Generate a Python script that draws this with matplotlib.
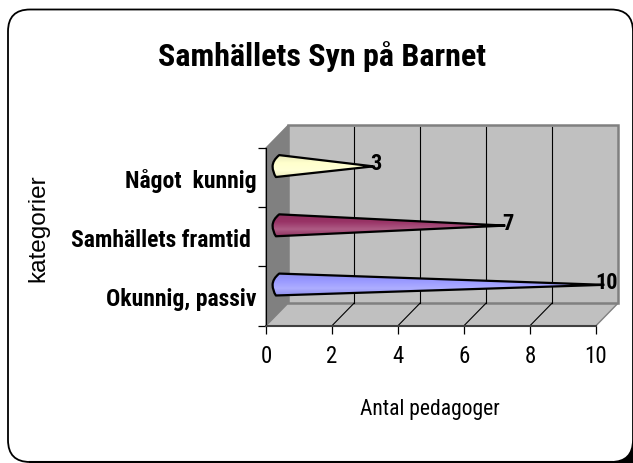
import matplotlib
matplotlib.use('Agg')
import logging
import numpy as np
import matplotlib.pyplot as plt
from matplotlib.path import Path
from matplotlib.patches import PathPatch, Polygon, FancyBboxPatch
from matplotlib.colors import LinearSegmentedColormap

logging.getLogger('matplotlib.font_manager').setLevel(logging.ERROR)

categories = ['Okunnig, passiv', 'Samhällets framtid ', 'Något  kunnig']
values = [10, 7, 3]
colors = ['#9999FF', '#993366', '#FFFFCC']
x_ticks = [0, 2, 4, 6, 8, 10]

NARROW = ['Roboto Condensed', 'Roboto']
W, H = 633, 464

fig = plt.figure(figsize=(W / 100, H / 100), dpi=100, facecolor='white')

# border of the chart area, in pixels
bg = fig.add_axes([0, 0, 1, 1], zorder=0)
bg.set_xlim(0, W)
bg.set_ylim(H, 0)
bg.axis('off')
bg.add_patch(Polygon([(605, 464), (633, 464), (633, 430)], fc='black', ec='none'))
bg.add_patch(FancyBboxPatch((8 + 22, 10.5 + 22), 625 - 44, 452.5 - 44, boxstyle='round,pad=22,rounding_size=22',
                            fc='white', ec='black', lw=1.3))
bg.plot([30, 612], [463, 463], color='black', lw=1.5)
bg.text(322, 57, 'Samhällets Syn på Barnet', family=NARROW, weight='bold', fontsize=23,
        ha='center', va='center')
bg.text(38, 228, 'kategorier', family='Liberation Sans', fontsize=17.5, rotation=90, ha='center', va='center')
bg.text(430, 410, 'Antal pedagoger', family=NARROW, fontsize=15.5, ha='center', va='center')

# front plane of the 3d box
ax = fig.add_axes([266 / W, (H - 326.7) / H, 330 / W, 177.7 / H], zorder=1)
ax.set_xlim(0, 10)
ax.set_ylim(0, 3)
ax.patch.set_visible(False)
for s in ['top', 'right']:
    ax.spines[s].set_visible(False)
ax.spines['left'].set_color('black')
ax.spines['bottom'].set_color('#404040')
ax.spines['bottom'].set_linewidth(1.5)

dx, dy = 0.667, 0.38
ax.add_patch(Polygon([(0, 0), (dx, dy), (dx, 3 + dy), (0, 3)], fc='#808080', ec='#808080', clip_on=False, zorder=1))
ax.add_patch(Polygon([(0, 0), (10, 0), (10 + dx, dy), (dx, dy)], fc='#C0C0C0', ec='#808080', lw=1, clip_on=False, zorder=1))
ax.add_patch(Polygon([(dx, dy), (10 + dx, dy), (10 + dx, 3 + dy), (dx, 3 + dy)], fc='#C0C0C0', ec='#808080', lw=1.8,
                     clip_on=False, zorder=1))
for t in x_ticks[1:-1]:
    ax.plot([t + dx, t + dx], [dy, 3 + dy - 0.02], color='black', lw=0.8, clip_on=False, zorder=2)
    ax.plot([t, t + dx], [0, dy], color='black', lw=0.8, clip_on=False, zorder=2)

ax.set_xticks(x_ticks)
ax.set_xticklabels([str(t) for t in x_ticks], family=NARROW, fontsize=16.5)
ax.tick_params(axis='x', length=6, width=0.9, pad=7, color='black')
ax.set_yticks([0, 1, 2, 3])
ax.set_yticklabels([])
ax.tick_params(axis='y', length=6, width=0.9)
ax.set_yticks([i + 0.5 for i in range(len(categories))], minor=True)
ax.set_yticklabels(categories, minor=True, family=NARROW, weight='bold', fontsize=17)
ax.tick_params(axis='y', which='minor', length=0, pad=7)

# cones
for i, (v, c) in enumerate(zip(values, colors)):
    yc = i + 0.5 + 0.19
    tip = v + 0.25
    verts = [(tip, yc), (0.4, yc + 0.19), (0.2, yc + 0.1), (0.2, yc), (0.2, yc - 0.1), (0.3, yc - 0.18), (tip, yc)]
    codes = [Path.MOVETO, Path.LINETO, Path.CURVE3, Path.CURVE3, Path.CURVE3, Path.CURVE3, Path.LINETO]
    cone = PathPatch(Path(verts, codes), fc='none', ec='black', lw=1.6, clip_on=False, zorder=4, joinstyle='round')
    ax.add_patch(cone)
    base = np.array(matplotlib.colors.to_rgb(c))
    cmap = LinearSegmentedColormap.from_list('c', [base * 0.92, base + (1 - base) * 0.2, base, base * 0.92])
    im = ax.imshow(np.linspace(0, 1, 64)[:, None], cmap=cmap, extent=(0.2, tip, yc - 0.19, yc + 0.19), aspect='auto',
                   origin='lower', zorder=3, clip_on=True)
    im.set_clip_path(Path(verts, codes), ax.transData)
    ax.text(v + 0.32, yc + 0.05, str(v), family=NARROW, weight='bold', fontsize=16, ha='center', va='center',
            clip_on=False, zorder=5)

ax.set_xlim(0, 10)
ax.set_ylim(0, 3)
fig.savefig('out.png', dpi=100)
